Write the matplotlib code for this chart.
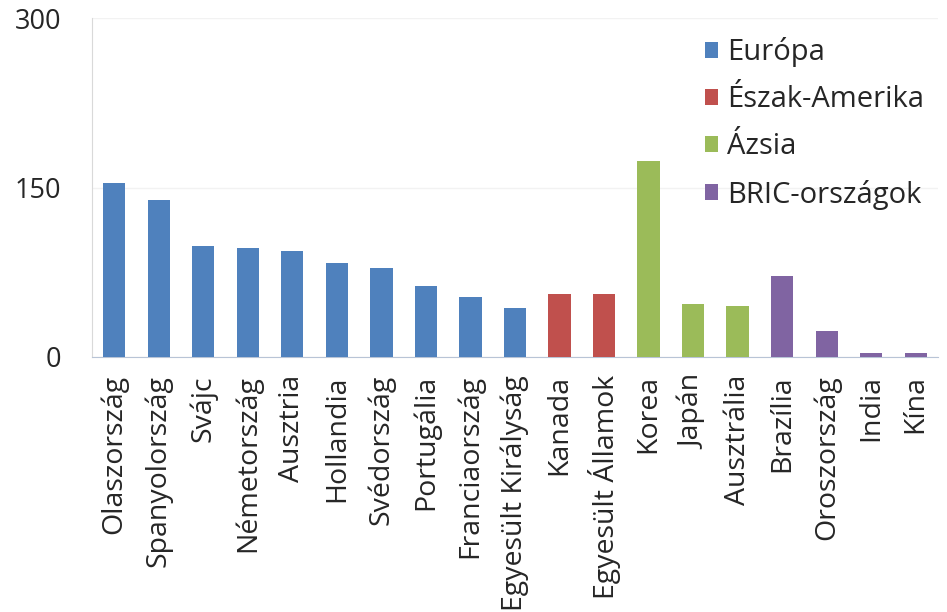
import numpy as np
import matplotlib
matplotlib.use("Agg")
import matplotlib.pyplot as plt

# ---------------------------------------------------------
# adatok
# ---------------------------------------------------------
countries = ["Olaszország", "Spanyolország", "Svájc", "Németország", "Ausztria",
             "Hollandia", "Svédország", "Portugália", "Franciaország",
             "Egyesült Királyság", "Kanada", "Egyesült Államok", "Korea",
             "Japán", "Ausztrália", "Brazília", "Oroszország", "India", "Kína"]
values = [154, 139, 98.6, 96.5, 93.5, 83, 78.8, 63.2, 53, 43,
          55.8, 55.5, 174, 47, 45, 71.4, 23.4, 3.3, 3.3]
regions = ["Európa"] * 10 + ["Észak-Amerika"] * 2 + ["Ázsia"] * 3 + ["BRIC-országok"] * 4

region_names = ["Európa", "Észak-Amerika", "Ázsia", "BRIC-országok"]
region_colors = {"Európa": "#4F81BD", "Észak-Amerika": "#C0504D",
                 "Ázsia": "#9BBB59", "BRIC-országok": "#8064A2"}
y_ticks = [0, 150, 300]

plt.rcParams['font.family'] = ['Open Sans', 'DejaVu Sans']
TEXT_COLOR = "#262626"

fig = plt.figure(figsize=(9.47, 6.12), dpi=100)
ax = fig.add_axes([0.0971, 0.4167, 0.8934, 0.5531])

x = np.arange(len(countries))
for reg in region_names:
    idx = [i for i, r in enumerate(regions) if r == reg]
    ax.bar(x[idx], [values[i] for i in idx], width=0.5,
           color=region_colors[reg], label=reg, zorder=3)

ax.set_xlim(-0.5, len(countries) - 0.5)
ax.set_ylim(0, 300)
ax.set_yticks(y_ticks)
ax.set_yticklabels([str(t) for t in y_ticks], fontsize=19.5, color=TEXT_COLOR)
ax.set_xticks(x)
ax.set_xticklabels(countries, rotation=90, fontsize=20.5, color=TEXT_COLOR)
ax.tick_params(axis='both', length=0)
ax.tick_params(axis='y', pad=22)
ax.tick_params(axis='x', pad=13)

ax.yaxis.grid(True, color="#f2f2f2", linewidth=1, zorder=0)
for s in ["top", "right"]:
    ax.spines[s].set_visible(False)
ax.spines["left"].set_color("#d9d9d9")
ax.spines["bottom"].set_color("#b8c4d6")

# jelmagyarázat a jobb felső sarokban
leg = ax.legend(loc="upper left", bbox_to_anchor=(0.717, 0.982), bbox_transform=fig.transFigure,
                frameon=False, fontsize=21, handlelength=0.45, handleheight=0.45,
                handletextpad=0.3, labelspacing=0.62)
for t in leg.get_texts():
    t.set_color(TEXT_COLOR)

fig.savefig("out.png", dpi=100)
